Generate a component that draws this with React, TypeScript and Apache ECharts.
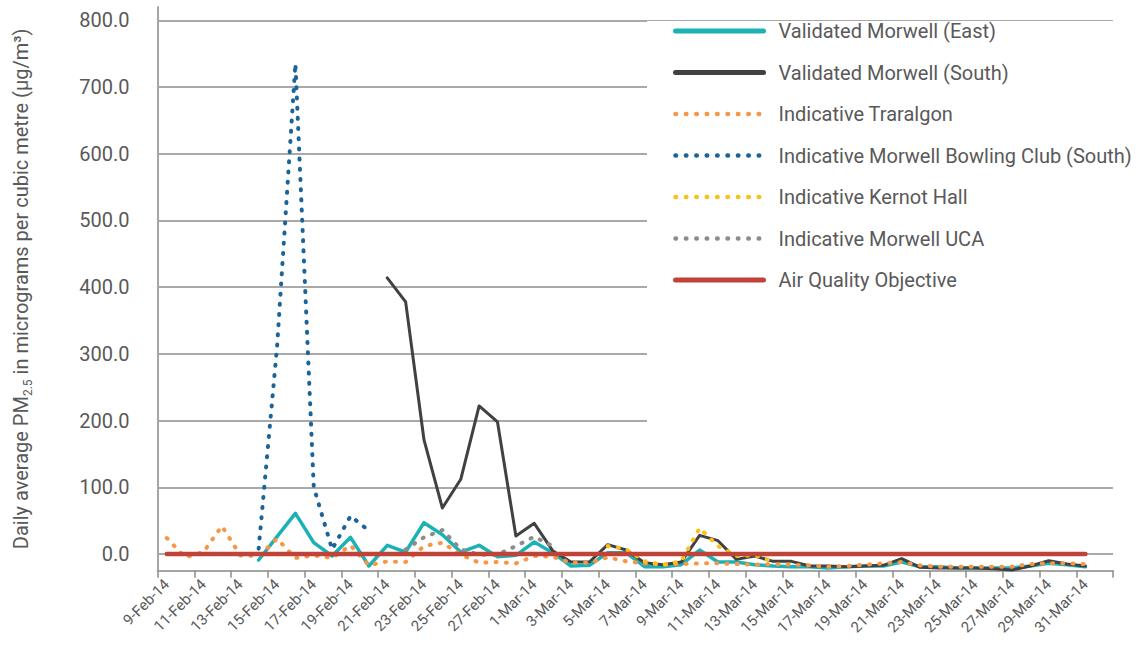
import React, { useEffect, useRef } from 'react';
import * as echarts from 'echarts';

const categories = [
  '9-Feb-14', '10-Feb-14', '11-Feb-14', '12-Feb-14', '13-Feb-14', '14-Feb-14', '15-Feb-14', '16-Feb-14',
  '17-Feb-14', '18-Feb-14', '19-Feb-14', '20-Feb-14', '21-Feb-14', '22-Feb-14', '23-Feb-14', '24-Feb-14',
  '25-Feb-14', '26-Feb-14', '27-Feb-14', '28-Feb-14', '1-Mar-14', '2-Mar-14', '3-Mar-14', '4-Mar-14',
  '5-Mar-14', '6-Mar-14', '7-Mar-14', '8-Mar-14', '9-Mar-14', '10-Mar-14', '11-Mar-14', '12-Mar-14',
  '13-Mar-14', '14-Mar-14', '15-Mar-14', '16-Mar-14', '17-Mar-14', '18-Mar-14', '19-Mar-14', '20-Mar-14',
  '21-Mar-14', '22-Mar-14', '23-Mar-14', '24-Mar-14', '25-Mar-14', '26-Mar-14', '27-Mar-14', '28-Mar-14',
  '29-Mar-14', '30-Mar-14', '31-Mar-14', '1-Apr-14',
];

const morwellEast = [
  null, null, null, null, null, -9, 26, 61, 17, -3, 25, -18, 13, 3, 47, 29, 3, 13, -4, -2,
  18, 2, -18, -17, 2, 2, -19, -19, -16, 6, -12, -12, -16, -18, -19, -19, -21, -19, -18, -18,
  -12, -19, -19, -21, -21, -21, -21, -18, -14, -16, -19,
];

const morwellSouth = [
  null, null, null, null, null, null, null, null, null, null, null, null,
  414, 378, 171, 69, 112, 222, 198, 27, 46, 5, -12, -12, 14, 6, -13, -16, -12, 28, 20, -8,
  -3, -11, -11, -18, -18, -19, -18, -17, -7, -20, -21, -21, -21, -22, -24, -18, -10, -15, -18,
];

const traralgon = [
  24, -5, 3, 42, -2, -3, 23, -6, -2, -6, 13, -17, -11, -12, 12, 17, -1, -13, -12, -14,
  -3, -4, -13, -13, -5, -11, -14, -16, -15, -14, -14, -15, -16, -15, -16, -17, -19, -18, -16, -14,
  -12, -17, -19, -19, -19, -19, -19, -15, -14, -14, -15,
];

const bowlingClub = [null, null, null, null, null, 8, 310, 735, 100, 7, 57, 35];

const kernotHall = [
  null, null, null, null, null, null, null, null, null, null, null, null, null, null, null, null,
  null, null, null, null, null, null, null, null, 12, 7, -11, -16, -11, 39, 12, -3, -2, -11,
];

const morwellUCA = [
  null, null, null, null, null, null, null, null, null, null, null, null, null,
  7, 25, 36, 7, -1, -1, 12, 26, 12,
];

const airQualityObjective = [
  0, 0, 0, 0, 0, 0, 0, 0, 0, 0, 0, 0, 0, 0, 0, 0, 0, 0, 0, 0, 0, 0, 0, 0, 0, 0,
  0, 0, 0, 0, 0, 0, 0, 0, 0, 0, 0, 0, 0, 0, 0, 0, 0, 0, 0, 0, 0, 0, 0, 0, 0,
];

const seriesNames = [
  'Validated Morwell (East)',
  'Validated Morwell (South)',
  'Indicative Traralgon',
  'Indicative Morwell Bowling Club (South)',
  'Indicative Kernot Hall',
  'Indicative Morwell UCA',
  'Air Quality Objective',
];

const FONT = 'Roboto, "Open Sans", sans-serif';
const TEXT = '#595959';
const DOT: number[] = [1, 9.2];

export default function App() {
  const ref = useRef<HTMLDivElement>(null);

  useEffect(() => {
    const chart = echarts.init(ref.current as HTMLDivElement, null, { renderer: 'svg' });
    const solid = (color: string, width: number) => ({ color, width, type: 'solid', cap: 'round', join: 'round' });
    const dotted = (color: string, width: number) => ({ color, width, type: DOT, cap: 'round', join: 'round' });
    const mk = (name: string, data: (number | null)[], color: string, ls: any) => ({
      name,
      type: 'line',
      data,
      symbol: 'none',
      showSymbol: false,
      connectNulls: false,
      color,
      lineStyle: ls,
      emphasis: { disabled: true },
    });
    const colors = ['#1ab2b4', '#414141', '#f79646', '#1b6499', '#fbc01a', '#8c8c8c', '#c0433a'];
    chart.setOption({
      animation: false,
      backgroundColor: '#ffffff',
      textStyle: { fontFamily: FONT },
      grid: {
        left: 157.6,
        right: 27,
        top: 7,
        bottom: 74.3,
        containLabel: false,
        outerBoundsMode: 'none',
      },
      legend: {
        orient: 'vertical',
        left: 647,
        top: 21,
        padding: [0, 20, 160, 26],
        backgroundColor: '#ffffff',
        itemWidth: 88,
        itemHeight: 18,
        itemGap: 21.5,
        selectedMode: false,
        itemStyle: { opacity: 0, color: 'rgba(0,0,0,0)', borderWidth: 0 },
        textStyle: { fontFamily: FONT, fontSize: 20, color: TEXT, lineHeight: 18, padding: [0, 0, 0, 10] },
        data: seriesNames.map((n, i) => ({
          name: n,
          itemStyle: { opacity: 0, color: 'rgba(0,0,0,0)', borderWidth: 0 },
          lineStyle:
            i === 0 || i === 1 || i === 6
              ? { width: 5, type: 'solid', cap: 'round', color: colors[i] }
              : { width: 4.5, type: [0.5, 9.9], cap: 'round', color: colors[i] },
        })),
      },
      xAxis: {
        type: 'category',
        data: categories,
        boundaryGap: true,
        axisLine: { show: true, onZero: false, lineStyle: { color: '#a6a6a6', width: 2 } },
        axisTick: { show: true, interval: 1, length: 7, lineStyle: { color: '#8c8c8c', width: 1.5 } },
        axisLabel: { interval: 1, rotate: 45, fontSize: 15, color: TEXT, fontFamily: FONT, margin: 11 },
        splitLine: { show: false },
      },
      yAxis: {
        type: 'value',
        min: -25,
        max: 820,
        interval: 25,
        name: 'Daily average PM{sub|2.5} in micrograms per cubic metre (µg/m³)',
        nameLocation: 'middle',
        nameGap: 124,
        nameRotate: 90,
        nameMoveOverlap: false,
        nameTextStyle: {
          fontFamily: FONT,
          fontSize: 20,
          color: TEXT,
          lineHeight: 26,
          rich: { sub: { fontFamily: FONT, fontSize: 12, color: TEXT, lineHeight: 12, verticalAlign: 'bottom' } },
        },
        axisLine: { show: true, lineStyle: { color: '#a6a6a6', width: 2 } },
        axisTick: { show: false },
        axisLabel: {
          fontSize: 20,
          color: TEXT,
          fontFamily: FONT,
          margin: 28,
          padding: [0, 0, 5, 0],
          formatter: (v: number) => (Math.round(v) % 100 === 0 ? v.toFixed(1) : ''),
        },
        splitLine: {
          show: true,
          lineStyle: { color: ['rgba(0,0,0,0)', '#8c8c8c', 'rgba(0,0,0,0)', 'rgba(0,0,0,0)'], width: 1.5 },
        },
      },
      series: [
        mk(seriesNames[0], morwellEast, colors[0], solid(colors[0], 3.5)),
        mk(seriesNames[1], morwellSouth, colors[1], solid(colors[1], 3)),
        mk(seriesNames[2], traralgon, colors[2], dotted(colors[2], 4)),
        mk(seriesNames[3], bowlingClub, colors[3], dotted(colors[3], 4)),
        mk(seriesNames[4], kernotHall, colors[4], dotted(colors[4], 4)),
        mk(seriesNames[5], morwellUCA, colors[5], dotted(colors[5], 4)),
        mk(seriesNames[6], airQualityObjective, colors[6], solid(colors[6], 4.5)),
      ],
    });
    return () => chart.dispose();
  }, []);

  return (
    <div
      ref={ref}
      style={{ position: 'fixed', left: 0, top: 0, width: 1140, height: 645, background: '#fff' }}
    />
  );
}
